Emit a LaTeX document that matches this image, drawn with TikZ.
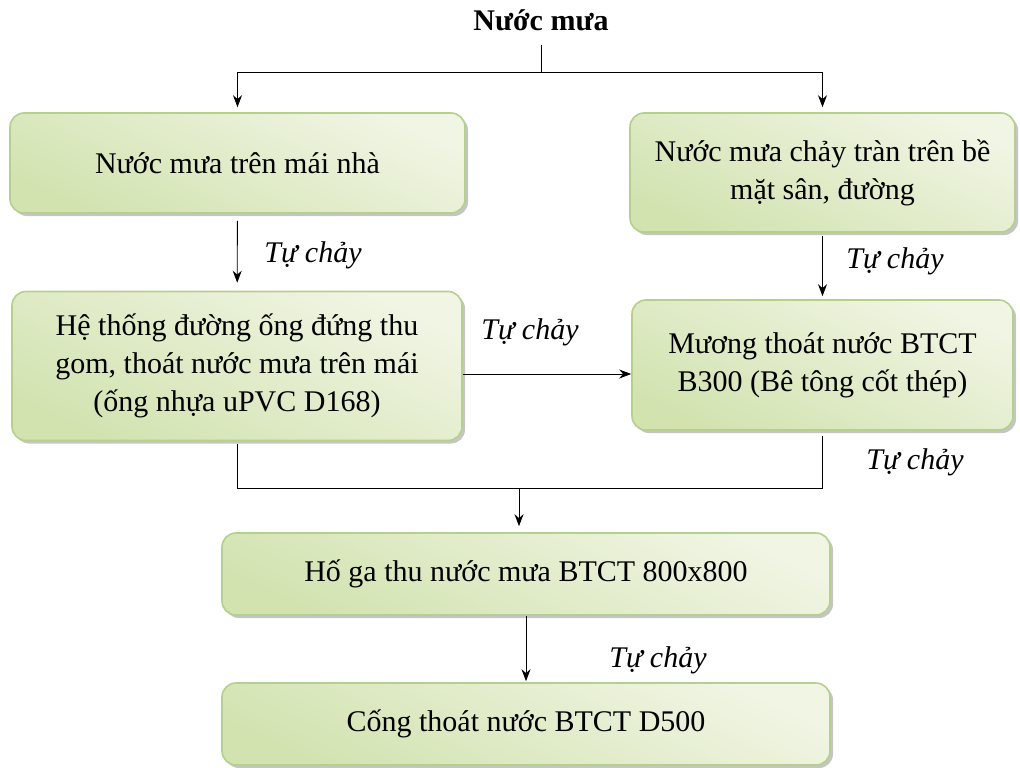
\documentclass[tikz,border=0pt]{standalone}
\usepackage{fontspec}
\setmainfont{Liberation Serif}
\usepackage{tikz}
\usetikzlibrary{
  positioning,
  calc,
  arrows.meta,
  shadows
}
\definecolor{vienhop}{HTML}{B4D08C}
\definecolor{nensang}{HTML}{F1F5E4}
\definecolor{nentoi}{HTML}{D2E3B0}
\newcommand{\cochu}{\fontsize{30}{38}\selectfont}
\tikzstyle{hop}=[draw=vienhop, line width=1.6pt, rounded corners=14pt,
  top color=nensang, bottom color=nentoi, shading angle=-25,
  drop shadow={shadow xshift=3pt, shadow yshift=-3pt, fill=black!45},
  align=center, inner sep=0pt]
\tikzstyle{muiten}=[-{Stealth[length=12pt,width=9pt]}, line width=0.9pt]
\tikzstyle{duong}=[line width=0.9pt]
\tikzstyle{nhan}=[font=\cochu\itshape]

\begin{document}
\begin{tikzpicture}[x=1pt, y=-1pt, font=\cochu]
    \useasboundingbox (0,0) rectangle (1020,768);

    % tiêu đề
    \node[font=\cochu\bfseries] (tieude) at (541,20) {Nước mưa};

    % các hộp
    \node[hop, minimum width=455pt, minimum height=100pt] (mainha) at (237.5,163)
      {Nước mưa trên mái nhà};
    \node[hop, minimum width=385pt, minimum height=119pt] (matsan) at (822.5,172.5)
      {Nước mưa chảy tràn trên bề\\mặt sân, đường};
    \node[hop, minimum width=450pt, minimum height=149pt] (ongdung) at (237,366)
      {Hệ thống đường ống đứng thu\\gom, thoát nước mưa trên mái\\(ống nhựa uPVC D168)};
    \node[hop, minimum width=381pt, minimum height=130pt] (muong) at (822.5,365)
      {Mương thoát nước BTCT\\B300 (Bê tông cốt thép)};
    \node[hop, minimum width=608pt, minimum height=82pt] (hoga) at (526,574)
      {Hố ga thu nước mưa BTCT 800x800};
    \node[hop, minimum width=608pt, minimum height=82pt] (cong) at (526,724)
      {Cống thoát nước BTCT D500};

    % chia nhánh nước mưa
    \coordinate (chia) at (541,72);
    \draw[duong] (tieude.south |- 0,45) -- (chia);
    \draw[muiten, shorten >=5pt] (chia) -| (mainha.north);
    \draw[muiten, shorten >=5pt] (chia) -| (matsan.north);

    % tự chảy
    \draw[muiten, shorten <=7pt, shorten >=8pt] (mainha) -- (ongdung);
    \draw[muiten, shorten <=3pt, shorten >=3pt] (matsan) -- (muong);
    \draw[muiten] (ongdung.east |- 0,374) -- (muong.west |- 0,374);

    % gom về hố ga
    \coordinate (gop) at (519,488);
    \draw[duong, shorten <=3pt] (ongdung.south) |- (gop);
    \draw[duong, shorten <=5pt] (muong.south) |- (gop);
    \draw[muiten, shorten >=6pt] (gop) -- (hoga.north -| gop);
    \draw[muiten, shorten >=1pt] (hoga) -- (cong);

    % nhãn
    \node[nhan] (nhan1) at (313,255) {Tự chảy};
    \node[nhan] (nhan2) at (895,261) {Tự chảy};
    \node[nhan] (nhan3) at (530,332) {Tự chảy};
    \node[nhan] (nhan4) at (915,462) {Tự chảy};
    \node[nhan] (nhan5) at (658,660) {Tự chảy};
\end{tikzpicture}
\end{document}
